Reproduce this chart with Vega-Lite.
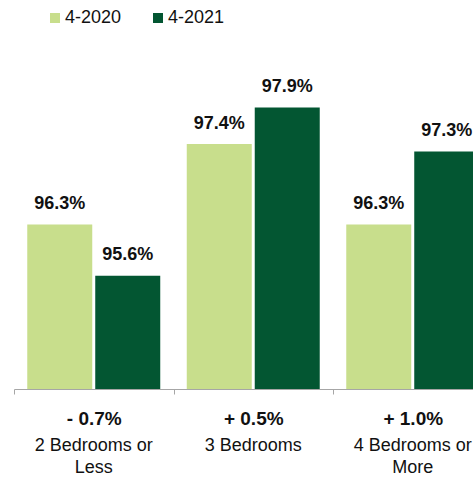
{
  "$schema": "https://vega.github.io/schema/vega-lite/v6.json",
  "width": 459,
  "height": 329,
  "autosize": {"type": "none"},
  "padding": {"left": 14, "top": 60, "right": 0, "bottom": 88},
  "background": "white",
  "config": {"view": {"stroke": null}, "font": "Liberation Sans", "axis": {"grid": false}},
  "data": {"values": [
    {"category": "2 Bedrooms or Less", "change": "- 0.7%", "period": "4-2020", "rate": 0.963},
    {"category": "2 Bedrooms or Less", "change": "- 0.7%", "period": "4-2021", "rate": 0.956},
    {"category": "3 Bedrooms", "change": "+ 0.5%", "period": "4-2020", "rate": 0.974},
    {"category": "3 Bedrooms", "change": "+ 0.5%", "period": "4-2021", "rate": 0.979},
    {"category": "4 Bedrooms or More", "change": "+ 1.0%", "period": "4-2020", "rate": 0.963},
    {"category": "4 Bedrooms or More", "change": "+ 1.0%", "period": "4-2021", "rate": 0.973}
  ]},
  "layer": [
    {
      "mark": {"type": "bar", "clip": true},
      "encoding": {
        "x": {
          "field": "category", "type": "nominal", "sort": null,
          "scale": {"range": [0, 478.5], "paddingInner": 0, "paddingOuter": 0},
          "axis": {
            "orient": "bottom", "title": null, "domain": false, "ticks": false, "tickSize": 0,
            "labelPadding": 61, "labelBaseline": "alphabetic", "labelFontSize": 18,
            "labelLineHeight": 22, "labelColor": "#111111", "labelAngle": 0, "labelLimit": 0,
            "labelExpr": "indexof(datum.value, ' or ') >= 0 ? [slice(datum.value, 0, indexof(datum.value, ' or ') + 3), slice(datum.value, indexof(datum.value, ' or ') + 4)] : datum.value"
          }
        },
        "xOffset": {"field": "period", "type": "nominal", "scale": {"paddingInner": 0.044, "paddingOuter": 0.195}},
        "y": {"field": "rate", "type": "quantitative", "scale": {"domain": [0.9405, 0.9855], "zero": false, "nice": false}, "axis": null},
        "color": {
          "field": "period", "type": "nominal",
          "scale": {"domain": ["4-2020", "4-2021"], "range": ["#C8DE8C", "#035632"]},
          "legend": {
            "orient": "none", "legendX": 32, "legendY": -51, "direction": "horizontal",
            "title": null, "symbolType": "square", "symbolSize": 100, "symbolStrokeWidth": 0,
            "symbolOpacity": 1, "labelFontSize": 18, "labelColor": "#111111", "labelOffset": 1,
            "columnPadding": 27
          }
        }
      }
    },
    {
      "mark": {"type": "text", "baseline": "alphabetic", "dy": -15.5, "fontSize": 18, "fontWeight": "bold", "color": "#111111"},
      "encoding": {
        "x": {
          "field": "change", "type": "nominal", "sort": null,
          "scale": {"range": [0, 478.5], "paddingInner": 0, "paddingOuter": 0},
          "axis": {
            "orient": "bottom", "title": null, "domain": true, "domainColor": "#a6a6a6",
            "ticks": true, "tickColor": "#a6a6a6", "tickSize": 5, "tickBand": "extent",
            "labelPadding": 30, "labelBaseline": "alphabetic", "labelFontSize": 19,
            "labelFontWeight": "bold", "labelColor": "#111111", "labelAngle": 0
          }
        },
        "xOffset": {"field": "period", "type": "nominal"},
        "y": {"field": "rate", "type": "quantitative"},
        "text": {"field": "rate", "type": "quantitative", "format": ".1%"}
      }
    }
  ],
  "resolve": {"scale": {"x": "independent"}, "axis": {"x": "independent"}}
}
